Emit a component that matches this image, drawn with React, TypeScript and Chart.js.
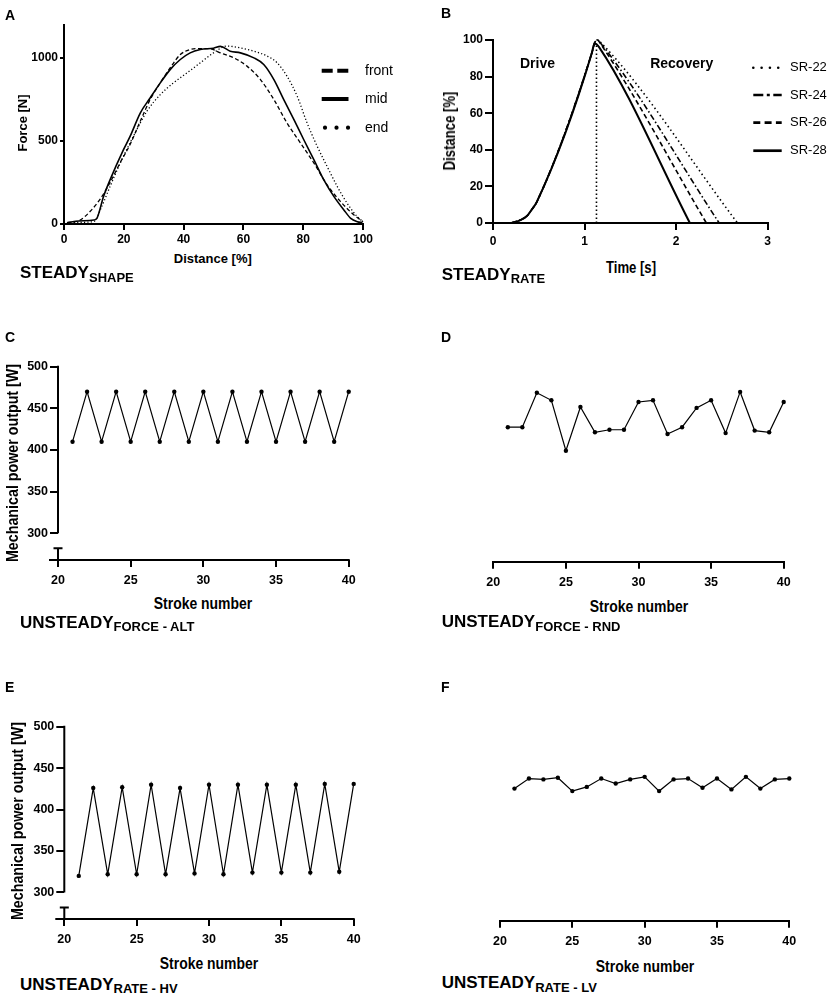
import React, { useEffect, useRef } from "react";
import { Chart, registerables } from "chart.js";
Chart.register(...registerables);

const SANS = '"Liberation Sans", Arial, Helvetica, sans-serif';
const INK = "#000";
const NARROW_SCALE = 0.82;

// ---------- Panel A: force curves ----------
const A_SERIES = ["front", "mid", "end"];
const A_FRONT_X = [1, 5.4, 8.7, 12.1, 15.4, 18.8, 22.1, 25.5, 28.8, 32.2, 35.5, 38.9, 42.2, 45.6, 49, 52.3, 56.8, 61.2, 65.7, 70.2, 74.6, 79.1, 83.6, 88, 92.5, 97, 100];
const A_FRONT_Y = [5, 24, 75, 150, 250, 370, 480, 620, 750, 851, 941, 1022, 1052, 1058, 1056, 1032, 1002, 952, 871, 750, 609, 488, 367, 236, 135, 54, 14];
const A_MID_X = [1, 5, 10, 11, 13.2, 15.4, 19.9, 22.1, 25.5, 28.8, 32.2, 35.5, 38.9, 42.2, 45.6, 50, 52.3, 55.6, 59, 63.5, 66.8, 70.2, 73.5, 76.9, 80.2, 83.6, 86.9, 90.3, 93.6, 95.9, 98.1, 99.8];
const A_MID_Y = [8, 18, 24, 34, 165, 266, 448, 528, 669, 760, 851, 931, 992, 1032, 1052, 1060, 1071, 1042, 1032, 1002, 962, 871, 750, 629, 508, 387, 266, 165, 85, 34, 14, 8];
const A_END_X = [1, 5, 10, 12.6, 15.4, 18.8, 23.2, 27.7, 32.2, 36.6, 41.1, 45.6, 50, 54.5, 59, 63.5, 68, 71.3, 74.6, 78, 81.3, 84.7, 88, 91.4, 94.7, 98.1, 100];
const A_END_Y = [5, 10, 15, 105, 226, 367, 528, 679, 780, 851, 911, 972, 1032, 1073, 1062, 1042, 1012, 972, 891, 770, 609, 468, 347, 226, 125, 44, 14];
const A_Y_TICKS = [0, 500, 1000];

// ---------- Panel B: stroke profiles ----------
const B_SERIES = ["SR-22", "SR-24", "SR-26", "SR-28"];
const B_DRIVE_T = [0.2, 0.3, 0.37, 0.42, 0.48, 1.08];
const B_DRIVE_D = [0, 1.6, 3.8, 7.1, 11.7, 93];
const B_SR22_REC_T = [1.11, 1.14, 1.18, 2.67];
const B_SR22_REC_D = [98.5, 100, 98.5, 0];
const B_SR24_REC_T = [1.11, 1.14, 1.18, 2.47];
const B_SR24_REC_D = [98.5, 100, 98, 0];
const B_SR26_REC_T = [1.11, 1.14, 1.18, 2.33];
const B_SR26_REC_D = [98.5, 100, 97.5, 0];
const B_SR28_REC_T = [1.1, 1.12, 1.16, 2.15];
const B_SR28_REC_D = [97, 98, 96, 0];
const B_DIVIDER_T = 1.13;
const B_DIVIDER_TOP = 97;

// ---------- Panels C-F: power per stroke ----------
const STROKES = [21, 22, 23, 24, 25, 26, 27, 28, 29, 30, 31, 32, 33, 34, 35, 36, 37, 38, 39, 40];
const C_POWER = [410, 470, 410, 470, 410, 470, 410, 470, 410, 470, 410, 470, 410, 470, 410, 470, 410, 470, 410, 470];
const D_POWER = [428, 428, 469, 460, 400, 452, 422, 425, 425, 458, 460, 420, 428, 451, 460, 421, 470, 424, 422, 458];
const E_POWER = [320, 426, 322, 427, 322, 430, 322, 426, 323, 430, 322, 430, 324, 430, 324, 430, 324, 431, 325, 431];
const F_POWER = [426, 438, 437, 439, 423, 428, 438, 432, 437, 440, 423, 437, 438, 427, 438, 425, 440, 426, 437, 438];
const POWER_Y_TICKS = [300, 350, 400, 450, 500];
const POWER_MIN = 268;
const POWER_BREAK = 282;

const pts = (xs: number[], ys: number[]) => xs.map((x, i) => ({ x, y: ys[i] }));

function legendPlugin(id: string, styles: any[], x0: number, x1: number, textX: number, rows: number[], font: string) {
  return {
    id,
    afterDraw(chart: any) {
      const ctx = chart.ctx;
      ctx.save();
      styles.forEach((st, i) => {
        const label = chart.data.datasets[i].label;
        ctx.beginPath();
        ctx.setLineDash(st.dash);
        ctx.lineCap = st.cap;
        ctx.lineWidth = st.width;
        ctx.strokeStyle = INK;
        ctx.moveTo(st.start ?? x0, rows[i]);
        ctx.lineTo(x1, rows[i]);
        ctx.stroke();
        ctx.setLineDash([]);
        ctx.fillStyle = INK;
        ctx.font = font;
        ctx.textBaseline = "middle";
        ctx.textAlign = "left";
        ctx.fillText(label, textX, rows[i]);
      });
      ctx.restore();
    },
  };
}

function brokenAxisPlugin() {
  return {
    id: "brokenAxis",
    afterDraw(chart: any) {
      const { ctx, scales } = chart;
      const x = scales.x;
      const y = scales.y;
      const ax = x.getPixelForValue(20);
      const top = y.getPixelForValue(POWER_Y_TICKS[POWER_Y_TICKS.length - 1]) - 1;
      const low = y.getPixelForValue(POWER_Y_TICKS[0]);
      const br = y.getPixelForValue(POWER_BREAK);
      ctx.save();
      ctx.strokeStyle = INK;
      ctx.lineWidth = 2;
      ctx.beginPath();
      ctx.moveTo(ax, top);
      ctx.lineTo(ax, low);
      ctx.moveTo(ax, br);
      ctx.lineTo(ax, y.bottom);
      ctx.moveTo(ax - 4.5, br);
      ctx.lineTo(ax + 4.5, br);
      ctx.moveTo(ax - 9, y.bottom);
      ctx.lineTo(x.right + 1, y.bottom);
      ctx.stroke();
      ctx.restore();
    },
  };
}

function axisX(min: number, max: number, step: number, h: number, font: any, tickLen: number, pad: number, border = true) {
  return {
    type: "linear",
    min,
    max,
    afterFit: (s: any) => { s.height = h; },
    ticks: { stepSize: step, font, color: INK, padding: pad, maxRotation: 0, autoSkip: false, callback: (v: any) => `${v}` },
    grid: { drawOnChartArea: false, drawTicks: true, tickLength: tickLen, color: INK, lineWidth: 2 },
    border: { display: border, color: INK, width: 2 },
  };
}

function axisY(min: number, max: number, tickVals: number[], w: number, font: any, tickLen: number, pad: number, border = true) {
  return {
    type: "linear",
    min,
    max,
    afterFit: (s: any) => { s.width = w; },
    afterBuildTicks: (s: any) => { s.ticks = tickVals.map((v) => ({ value: v })); },
    ticks: { font, color: INK, padding: pad, callback: (v: any) => `${v}` },
    grid: { drawOnChartArea: false, drawTicks: true, tickLength: tickLen, color: INK, lineWidth: 2 },
    border: { display: border, color: INK, width: 2 },
  };
}

const baseOpts = (padding: any) => ({
  animation: false,
  responsive: false,
  layout: { padding },
  plugins: { legend: { display: false }, tooltip: { enabled: false } },
  elements: { line: { fill: false } },
});

function cfgA() {
  const f = { family: SANS, size: 12, weight: "bold" };
  const line = (label: string, xs: number[], ys: number[], dash: number[], w: number) => ({
    label, data: pts(xs, ys), borderColor: INK, borderWidth: w, borderDash: dash, pointRadius: 0,
    cubicInterpolationMode: "monotone", clip: false,
  });
  return {
    type: "line",
    data: {
      datasets: [
        line(A_SERIES[0], A_FRONT_X, A_FRONT_Y, [4, 2.5], 1.3),
        line(A_SERIES[1], A_MID_X, A_MID_Y, [], 1.6),
        line(A_SERIES[2], A_END_X, A_END_Y, [1.2, 2.2], 1.3),
      ],
    },
    options: {
      ...baseOpts({ left: 0, top: 25, right: 57, bottom: 0 }),
      scales: {
        x: axisX(0, 100, 20, 26, f, 6, 2),
        y: axisY(0, 1200, A_Y_TICKS, 64, f, 4, 2),
      },
    },
    plugins: [
      legendPlugin("legA", [
        { dash: [11, 4.6], cap: "butt", width: 4 },
        { dash: [], cap: "butt", width: 4 },
        { dash: [0.01, 11.5], cap: "round", width: 4.2, start: 325 },
      ], 321.7, 348.5, 365, [70.7, 99, 127.7], `14px ${SANS}`),
    ],
  };
}

function cfgB() {
  const f = { family: SANS, size: 12, weight: "bold" };
  const line = (label: string, rt: number[], rd: number[], dash: number[], w: number) => ({
    label, data: pts([...B_DRIVE_T, ...rt], [...B_DRIVE_D, ...rd]), borderColor: INK, borderWidth: w,
    borderDash: dash, pointRadius: 0, cubicInterpolationMode: "monotone", clip: false,
  });
  return {
    type: "line",
    data: {
      datasets: [
        line(B_SERIES[0], B_SR22_REC_T, B_SR22_REC_D, [1.5, 3], 1.6),
        line(B_SERIES[1], B_SR24_REC_T, B_SR24_REC_D, [6, 2.5, 1.5, 2.5], 1.6),
        line(B_SERIES[2], B_SR26_REC_T, B_SR26_REC_D, [5, 3], 1.6),
        line(B_SERIES[3], B_SR28_REC_T, B_SR28_REC_D, [], 2),
        {
          label: "divider", data: [{ x: B_DIVIDER_T, y: 0 }, { x: B_DIVIDER_T, y: B_DIVIDER_TOP }],
          borderColor: INK, borderWidth: 1.6, borderDash: [1.5, 2.5], pointRadius: 0, clip: false,
        },
      ],
    },
    options: {
      ...baseOpts({ left: 0, top: 40, right: 61.3, bottom: 0 }),
      scales: {
        x: axisX(0, 3, 1, 27, f, 7, 4),
        y: axisY(0, 100, [0, 20, 40, 60, 80, 100], 73, f, 8, 2),
      },
    },
    plugins: [
      legendPlugin("legB", [
        { dash: [0.01, 8.3], cap: "round", width: 2.6 },
        { dash: [10, 3.5, 3, 3.5], cap: "butt", width: 2.7 },
        { dash: [7, 4.3], cap: "butt", width: 2.7 },
        { dash: [], cap: "butt", width: 2.7 },
      ], 333.3, 361.7, 370, [67.7, 95, 122.7, 150.7], `13px ${SANS}`),
    ],
  };
}

function cfgPower(values: number[], withY: boolean, pad: any, yW: number, xH: number) {
  const f = { family: SANS, size: 12.5, weight: "bold" };
  return {
    type: "line",
    data: {
      datasets: [{
        label: "power", data: pts(STROKES, values), borderColor: INK, borderWidth: 1.2,
        pointRadius: 2.2, pointBackgroundColor: INK, pointBorderWidth: 0, clip: false,
      }],
    },
    options: {
      ...baseOpts(pad),
      scales: {
        x: axisX(20, 40, 5, xH, f, 7, 6, !withY),
        y: withY
          ? axisY(POWER_MIN, 500, POWER_Y_TICKS, yW, f, 8, 2, false)
          : { type: "linear", min: POWER_MIN, max: 500, display: false },
      },
    },
    plugins: withY ? [brokenAxisPlugin()] : [],
  };
}

function ChartBox({ left, top, width, height, make }: any) {
  const ref = useRef<HTMLCanvasElement>(null);
  useEffect(() => {
    const chart = new Chart(ref.current as HTMLCanvasElement, make());
    return () => chart.destroy();
  }, []);
  return (
    <canvas ref={ref} width={width} height={height}
      style={{ position: "absolute", left, top, width, height }} />
  );
}

function Centered({ x, y, text, size, rotate = false, narrow = false, weight = "bold" }: any) {
  const t = `translate(-50%, -50%)${rotate ? " rotate(-90deg)" : ""}${narrow ? ` scale(${NARROW_SCALE}, 1)` : ""}`;
  return (
    <div style={{
      position: "absolute", left: x, top: y, whiteSpace: "nowrap", fontFamily: SANS, fontSize: size,
      fontWeight: weight, lineHeight: 1, color: INK, transform: t,
    }}>{text}</div>
  );
}

function Letter({ x, base, text }: any) {
  return (
    <div style={{ position: "absolute", left: x, top: base - 0.846 * 14, fontFamily: SANS, fontSize: 14, fontWeight: "bold", lineHeight: 1, color: INK }}>{text}</div>
  );
}

function Subtitle({ x, base, main, sub, subDrop = 3.6 }: any) {
  return (
    <div style={{ position: "absolute", left: x, top: base - 0.846 * 17, fontFamily: SANS, fontSize: 17, fontWeight: "bold", lineHeight: 1, color: INK, whiteSpace: "nowrap" }}>
      {main}
      <span style={{ fontSize: 13, position: "relative", top: subDrop }}>{sub}</span>
    </div>
  );
}

export default function App() {
  return (
    <div style={{ position: "absolute", left: 0, top: 0, width: 829, height: 996, background: "#fff", overflow: "hidden" }}>
      <ChartBox left={0} top={0} width={420} height={250} make={cfgA} />
      <ChartBox left={420} top={0} width={409} height={250} make={cfgB} />
      <ChartBox left={0} top={330} width={420} height={260}
        make={() => cfgPower(C_POWER, true, { left: 0, top: 36.7, right: 71.3, bottom: 0 }, 58, 30)} />
      <ChartBox left={420} top={330} width={409} height={260}
        make={() => cfgPower(D_POWER, false, { left: 73.3, top: 36.7, right: 45.3, bottom: 0 }, 0, 28.3)} />
      <ChartBox left={0} top={680} width={420} height={270}
        make={() => cfgPower(E_POWER, true, { left: 0, top: 46.7, right: 66.3, bottom: 0 }, 64.3, 31)} />
      <ChartBox left={420} top={680} width={409} height={270}
        make={() => cfgPower(F_POWER, false, { left: 80, top: 46.7, right: 39.7, bottom: 0 }, 0, 29.3)} />

      <Letter x={5} base={20} text="A" />
      <Letter x={441} base={18.3} text="B" />
      <Letter x={5} base={342} text="C" />
      <Letter x={441} base={342} text="D" />
      <Letter x={5} base={692} text="E" />
      <Letter x={441} base={692} text="F" />

      <Centered x={21.7} y={123} text="Force [N]" size={13} rotate />
      <Centered x={212.8} y={258.3} text="Distance [%]" size={13} />
      <Centered x={450} y={130.8} text="Distance [%]" size={16} rotate narrow />
      <Centered x={630.8} y={267.5} text="Time [s]" size={16} narrow />
      <Centered x={537.5} y={62.5} text="Drive" size={14} />
      <Centered x={681.7} y={63} text="Recovery" size={14} />

      <Centered x={13.3} y={463.3} text="Mechanical power output [W]" size={17.4} rotate narrow />
      <Centered x={203.3} y={603} text="Stroke number" size={17} narrow />
      <Centered x={638.6} y={606.3} text="Stroke number" size={17} narrow />
      <Centered x={18.3} y={820.8} text="Mechanical power output [W]" size={17.4} rotate narrow />
      <Centered x={209} y={963.3} text="Stroke number" size={17} narrow />
      <Centered x={644.7} y={966} text="Stroke number" size={17} narrow />

      <Subtitle x={20} base={278.3} main="STEADY" sub="SHAPE" subDrop={4.4} />
      <Subtitle x={441.7} base={280} main="STEADY" sub="RATE" subDrop={3.3} />
      <Subtitle x={20} base={628.3} main="UNSTEADY" sub="FORCE - ALT" subDrop={3.4} />
      <Subtitle x={441.7} base={627.7} main="UNSTEADY" sub="FORCE - RND" subDrop={4} />
      <Subtitle x={20} base={990} main="UNSTEADY" sub="RATE - HV" subDrop={3.3} />
      <Subtitle x={441.7} base={988.3} main="UNSTEADY" sub="RATE - LV" subDrop={4.4} />
    </div>
  );
}
